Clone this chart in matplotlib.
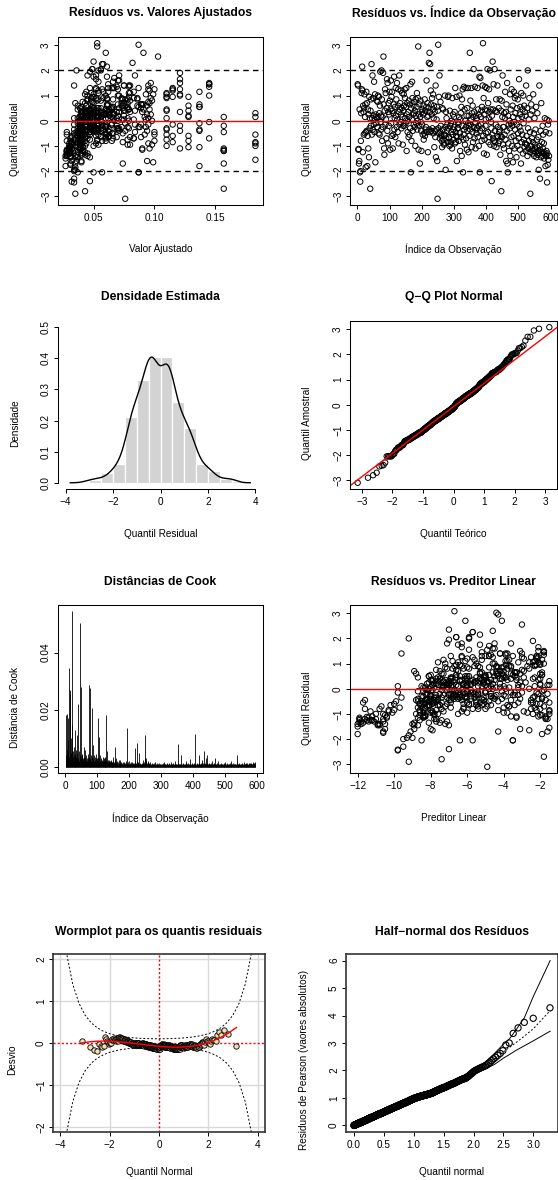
import numpy as np
import matplotlib
matplotlib.use('Agg')
import matplotlib.pyplot as plt
from statistics import NormalDist

plt.rcParams['font.family'] = ['Liberation Sans', 'DejaVu Sans']
plt.rcParams['axes.unicode_minus'] = True

# quantile residuals, in observation order
resid = [
    1.45, 1.40, -1.15, -1.12, -1.70, -1.60, 0.45, -2.05, -2.42, -2.00, -0.80, 0.30, 1.10, 1.25, 2.15, 1.20, -1.25, 0.60, 0.35, -0.55,
    0.50, 1.05, -0.50, 0.15, 0.65, -1.85, -0.45, 1.15, -0.40, 0.70, -1.80, -0.60, 0.45, -1.10, 0.25, -1.45, 0.95, -0.30, 0.10, -2.70,
    0.40, -0.20, 0.85, 2.25, -0.55, 0.10, 1.80, -0.35, 0.90, 0.20, -0.15, 1.55, -0.45, 0.05, 1.05, -1.65, 0.25, 0.15, -0.10, 0.80,
    0.10, -0.25, 0.75, 1.00, 0.15, -0.50, 0.95, 0.30, -0.55, 0.60, 1.95, -0.05, 0.20, -0.35, 2.00, 0.85, -0.80, 0.15, -0.25, 1.90,
    2.55, 0.65, -1.10, -1.35, 0.40, 1.25, -0.15, 1.10, 0.05, -0.70, 0.50, 1.65, -0.40, 1.50, -0.90, 0.35, 0.70, -0.20, 0.25, 1.15,
    0.80, -1.15, 0.45, 1.60, -0.10, 0.95, -0.60, 1.15, 0.40, -1.10, 0.30, -0.55, 0.65, 1.75, -0.35, 0.10, 0.55, -0.65, 1.30, 0.20,
    0.85, -0.25, 1.50, 0.05, -0.45, 0.60, 1.25, -0.90, 0.35, 1.80, -0.15, 0.45, 0.70, -0.05, 1.20, 0.25, -0.30, 0.50, 1.10, 0.15,
    -0.95, -0.20, 0.40, 1.05, 0.60, -0.20, 1.25, 0.90, 0.10, -0.10, 0.55, 1.30, -1.20, 0.25, 0.70, -0.45, 0.00, 0.35, -0.65, 0.80,
    0.15, -0.55, 0.65, -0.30, 1.45, -2.05, 0.50, -0.80, 0.05, 1.55, 0.90, -0.40, 0.25, 0.60, -0.15, 0.30, 0.75, -0.25, 0.40, -1.00,
    0.85, 0.20, -0.10, 0.55, 1.10, -0.35, 0.00, 0.90, 2.95, -1.15, 0.25, -0.20, 0.65, -1.70, 0.15, 0.80, -0.05, -0.40, -1.20, 0.35,
    -0.15, 0.45, -0.55, 0.25, 0.60, -0.75, 0.30, -0.50, 0.85, -0.60, 0.40, -0.35, -0.25, 0.55, 1.60, -0.45, 0.15, 0.70, -1.25, 0.20,
    0.50, 2.30, -0.35, 2.70, 0.35, 2.25, -0.45, 1.20, 0.65, -0.40, 0.25, 0.90, -0.30, 0.45, 1.05, -0.50, 0.10, 0.60, -1.05, 0.35,
    -0.40, -0.65, 1.40, -1.45, -0.35, 0.05, 0.55, -1.60, -3.10, 0.40, 3.02, -0.30, 0.95, -0.50, 1.80, -0.70, -0.45, 0.75, -0.20, -0.55,
    -0.60, -0.80, -1.05, 0.50, -0.35, 0.45, -0.75, -0.90, -0.95, -0.60, -0.55, 1.00, -0.25, -1.95, 0.35, -0.70, 0.10, -0.40, -0.15, -0.85,
    0.95, -0.30, 1.00, -0.65, -0.70, -1.00, 0.40, -0.20, -0.95, -0.85, -0.10, -0.45, 0.00, -1.10, 0.90, -0.55, 0.25, -0.35, -0.75, 0.15,
    -0.25, 0.35, -0.90, 1.30, -0.45, -0.85, -0.60, 0.95, -1.60, -0.65, -0.30, -0.30, -0.05, -0.15, -0.80, 0.15, 1.00, -0.50, -1.20, 0.05,
    0.30, -0.65, 0.55, -1.40, 0.85, -0.20, 1.25, -2.05, -0.75, -0.55, 1.35, -0.35, 0.45, -0.95, 0.00, 1.30, -0.25, -0.70, 0.20, -1.15,
    0.50, -0.40, 1.30, -0.10, -1.25, 0.20, -0.20, -0.60, 2.70, -0.35, 0.80, -0.15, 0.05, 1.30, -1.05, 0.30, -0.45, 0.60, -0.85, 0.15,
    2.05, -0.25, 0.35, -0.70, 1.35, -0.10, -1.10, 0.20, -0.35, -0.50, 0.10, -0.30, 1.30, -0.65, 0.45, -0.20, -1.00, 0.25, 1.75, -2.05,
    -0.40, 1.70, 0.15, -0.15, 0.40, -0.80, 0.55, -0.30, 1.40, 3.08, -0.60, 0.90, -1.30, 0.25, -0.75, 0.45, 1.35, -0.20, 0.05, -0.50,
    1.30, -1.35, 0.40, 2.05, -0.45, 0.70, -0.85, 0.10, 1.25, -0.65, 0.35, 2.00, -0.95, 0.45, -0.05, -0.30, -2.40, 0.20, -0.55, 2.35,
    0.45, -0.70, 1.45, -1.00, -0.80, 2.05, -0.40, -0.85, 0.40, -0.15, 0.85, -1.05, 0.35, -0.60, 1.40, -0.25, -0.65, -0.90, 0.50, -0.45,
    -0.80, 0.85, -0.35, -1.35, -0.60, 0.40, -2.80, 0.80, -0.65, 0.15, 1.80, -0.95, -0.25, -0.25, -1.10, 0.30, -0.55, 0.10, 1.15, -0.75,
    0.35, -1.60, 0.65, -0.40, 1.50, -1.70, -2.05, 0.20, -0.90, -0.15, -1.20, 0.00, -0.30, 1.05, -1.40, 0.45, -0.10, -0.65, 1.25, -1.00,
    -0.20, 0.60, -1.65, 0.15, -0.60, 1.15, -0.05, -1.10, 0.90, -0.35, 0.30, -0.80, 1.00, -1.45, -0.15, 0.50, -1.00, 0.85, -0.50, 0.10,
    -0.70, 1.65, -0.25, 0.25, -1.15, 0.55, -0.40, -1.70, 1.10, -0.85, 0.15, -0.55, 0.45, -1.30, 1.00, -0.10, -0.75, 0.60, -1.05, 0.35,
    -0.90, 0.20, -1.20, 1.40, -0.60, -0.95, 0.50, -1.40, 2.00, -0.30, -1.10, 0.05, -0.80, 0.90, -1.25, -0.45, -2.90, 0.25, -1.00, 0.65,
    -1.15, -0.70, 0.40, -1.30, -0.85, 1.05, -1.20, -0.50, -1.40, 0.10, -0.95, -1.10, -0.35, -1.25, 0.55, -1.45, -0.75, -1.05, 0.30, -1.35,
    -1.20, -0.65, -1.95, -1.30, 1.40, -1.00, -2.30, -1.15, -0.40, -1.45, 0.70, -1.25, -0.85, -1.40, -0.20, -1.10, -0.55, -1.30, -0.90, -1.50,
    -1.25, 0.10, -1.35, -1.80, -0.45, -1.40, -1.20, 0.05, -2.45, -1.30, -1.75, -0.15, -1.55, 0.00, -1.40, -0.50,
]

fitted = [
    0.062, 0.080, 0.028, 0.030, 0.031, 0.032, 0.048, 0.037, 0.032, 0.034, 0.028, 0.040, 0.054, 0.070, 0.061, 0.115, 0.030, 0.044, 0.040, 0.039,
    0.074, 0.099, 0.040, 0.054, 0.090, 0.035, 0.041, 0.058, 0.121, 0.050, 0.137, 0.037, 0.065, 0.032, 0.044, 0.036, 0.079, 0.040, 0.069, 0.157,
    0.041, 0.060, 0.066, 0.057, 0.039, 0.110, 0.052, 0.045, 0.086, 0.039, 0.049, 0.054, 0.157, 0.073, 0.043, 0.040, 0.063, 0.092, 0.037, 0.053,
    0.047, 0.041, 0.095, 0.060, 0.183, 0.040, 0.049, 0.066, 0.043, 0.037, 0.047, 0.056, 0.128, 0.050, 0.056, 0.078, 0.039, 0.045, 0.088, 0.121,
    0.103, 0.061, 0.039, 0.043, 0.053, 0.100, 0.065, 0.048, 0.041, 0.083, 0.071, 0.052, 0.040, 0.097, 0.040, 0.121, 0.075, 0.047, 0.058, 0.044,
    0.056, 0.037, 0.043, 0.070, 0.048, 0.110, 0.037, 0.062, 0.076, 0.096, 0.047, 0.054, 0.137, 0.050, 0.041, 0.060, 0.087, 0.039, 0.067, 0.053,
    0.073, 0.050, 0.145, 0.039, 0.063, 0.044, 0.057, 0.037, 0.090, 0.045, 0.115, 0.049, 0.078, 0.040, 0.054, 0.097, 0.069, 0.039, 0.079, 0.056,
    0.040, 0.058, 0.047, 0.110, 0.074, 0.043, 0.052, 0.083, 0.062, 0.039, 0.137, 0.065, 0.041, 0.053, 0.096, 0.039, 0.070, 0.043, 0.080, 0.048,
    0.047, 0.061, 0.089, 0.037, 0.145, 0.050, 0.056, 0.100, 0.044, 0.066, 0.048, 0.071, 0.040, 0.128, 0.053, 0.060, 0.041, 0.093, 0.075, 0.036,
    0.086, 0.041, 0.065, 0.049, 0.110, 0.043, 0.079, 0.061, 0.053, 0.157, 0.047, 0.039, 0.070, 0.035, 0.054, 0.098, 0.045, 0.037, 0.157, 0.057,
    0.050, 0.078, 0.040, 0.058, 0.094, 0.039, 0.048, 0.066, 0.045, 0.115, 0.061, 0.053, 0.087, 0.040, 0.071, 0.052, 0.128, 0.043, 0.037, 0.063,
    0.039, 0.082, 0.054, 0.060, 0.080, 0.058, 0.043, 0.096, 0.062, 0.137, 0.049, 0.073, 0.039, 0.091, 0.121, 0.060, 0.044, 0.076, 0.041, 0.050,
    0.056, 0.043, 0.075, 0.047, 0.110, 0.040, 0.065, 0.094, 0.076, 0.047, 0.087, 0.052, 0.128, 0.041, 0.084, 0.060, 0.036, 0.049, 0.069, 0.183,
    0.040, 0.053, 0.039, 0.089, 0.048, 0.063, 0.110, 0.044, 0.078, 0.037, 0.060, 0.145, 0.047, 0.034, 0.069, 0.039, 0.095, 0.050, 0.057, 0.183,
    0.050, 0.071, 0.045, 0.039, 0.083, 0.043, 0.061, 0.121, 0.054, 0.039, 0.076, 0.047, 0.098, 0.090, 0.058, 0.041, 0.067, 0.137, 0.037, 0.049,
    0.060, 0.040, 0.052, 0.087, 0.039, 0.074, 0.045, 0.115, 0.036, 0.056, 0.049, 0.079, 0.043, 0.065, 0.128, 0.048, 0.070, 0.037, 0.157, 0.093,
    0.043, 0.062, 0.078, 0.045, 0.054, 0.039, 0.095, 0.057, 0.047, 0.110, 0.069, 0.041, 0.060, 0.080, 0.040, 0.052, 0.073, 0.145, 0.047, 0.090,
    0.065, 0.049, 0.115, 0.040, 0.043, 0.075, 0.053, 0.128, 0.091, 0.058, 0.045, 0.084, 0.039, 0.066, 0.037, 0.050, 0.100, 0.061, 0.041, 0.157,
    0.049, 0.044, 0.071, 0.039, 0.079, 0.054, 0.121, 0.041, 0.063, 0.074, 0.037, 0.056, 0.047, 0.089, 0.110, 0.047, 0.050, 0.066, 0.061, 0.087,
    0.040, 0.067, 0.053, 0.095, 0.043, 0.060, 0.137, 0.048, 0.075, 0.053, 0.039, 0.097, 0.045, 0.058, 0.078, 0.037, 0.145, 0.050, 0.083, 0.065,
    0.062, 0.040, 0.084, 0.056, 0.047, 0.073, 0.115, 0.050, 0.121, 0.043, 0.063, 0.054, 0.039, 0.079, 0.145, 0.053, 0.047, 0.070, 0.092, 0.050,
    0.047, 0.066, 0.145, 0.041, 0.057, 0.049, 0.094, 0.037, 0.110, 0.060, 0.074, 0.137, 0.045, 0.052, 0.095, 0.040, 0.069, 0.095, 0.054, 0.084,
    0.043, 0.076, 0.050, 0.036, 0.063, 0.128, 0.043, 0.080, 0.060, 0.040, 0.071, 0.098, 0.049, 0.078, 0.039, 0.056, 0.100, 0.053, 0.137, 0.037,
    0.052, 0.040, 0.091, 0.062, 0.121, 0.074, 0.087, 0.045, 0.183, 0.057, 0.041, 0.067, 0.110, 0.050, 0.035, 0.079, 0.054, 0.043, 0.115, 0.183,
    0.048, 0.073, 0.099, 0.043, 0.056, 0.083, 0.039, 0.157, 0.052, 0.070, 0.044, 0.065, 0.121, 0.037, 0.089, 0.053, 0.110, 0.061, 0.040, 0.078,
    0.045, 0.121, 0.060, 0.094, 0.039, 0.049, 0.076, 0.157, 0.080, 0.040, 0.065, 0.047, 0.096, 0.041, 0.071, 0.137, 0.053, 0.086, 0.128, 0.062,
    0.032, 0.057, 0.030, 0.079, 0.032, 0.040, 0.050, 0.028, 0.036, 0.070, 0.030, 0.045, 0.031, 0.110, 0.028, 0.039, 0.035, 0.060, 0.031, 0.089,
    0.030, 0.031, 0.054, 0.030, 0.032, 0.093, 0.028, 0.034, 0.027, 0.043, 0.032, 0.039, 0.034, 0.030, 0.066, 0.031, 0.034, 0.031, 0.183, 0.028,
    0.031, 0.032, 0.035, 0.028, 0.034, 0.030, 0.034, 0.032, 0.043, 0.031, 0.035, 0.030, 0.032, 0.031, 0.157, 0.039, 0.028, 0.031, 0.030, 0.027,
    0.030, 0.034, 0.028, 0.027, 0.028, 0.031, 0.028, 0.075, 0.034, 0.030, 0.031, 0.034, 0.183, 0.053, 0.031, 0.037,
]

linpred = [
    -5.2, -3.8, -11.9, -11.5, -10.6, -10.5, -6.8, -8.5, -9.8, -9.5, -11.6, -7.9, -6.1, -4.6, -5.3, -2.2, -11.2, -7.4, -8.0, -8.3,
    -4.3, -2.6, -8.1, -6.0, -3.3, -9.2, -7.8, -5.6, -2.1, -6.5, -1.9, -8.6, -5.0, -10.4, -7.3, -8.9, -3.9, -8.0, -4.7, -1.8,
    -7.7, -5.4, -4.8, -5.7, -8.4, -2.3, -6.3, -7.1, -3.6, -8.2, -6.6, -5.9, -1.7, -4.4, -7.6, -7.9, -5.1, -3.2, -8.7, -6.2,
    -6.9, -7.7, -3.0, -5.5, -1.5, -8.0, -6.6, -4.9, -7.4, -8.8, -7.0, -5.8, -2.0, -6.4, -5.9, -4.0, -8.3, -7.2, -3.4, -2.4,
    -3.0, -5.3, -8.4, -7.5, -6.1, -2.5, -5.0, -6.8, -7.8, -3.7, -4.5, -6.3, -8.0, -3.1, -7.9, -2.1, -4.2, -6.9, -5.6, -7.3,
    -5.9, -8.7, -7.6, -4.6, -6.7, -2.3, -8.5, -5.2, -4.1, -3.6, -7.0, -6.0, -1.9, -6.5, -7.7, -5.4, -3.5, -8.1, -4.8, -6.2,
    -4.4, -6.4, -1.8, -8.3, -5.1, -7.3, -5.7, -8.6, -3.3, -7.1, -2.2, -6.6, -4.0, -7.9, -6.0, -2.8, -4.7, -8.1, -3.9, -5.8,
    -8.0, -5.6, -6.9, -2.4, -4.3, -7.5, -6.3, -3.7, -5.2, -8.4, -1.9, -5.0, -7.8, -6.1, -2.9, -8.2, -4.6, -7.4, -3.8, -6.8,
    -7.0, -5.3, -3.4, -8.5, -1.8, -6.4, -5.9, -2.5, -7.3, -4.9, -6.7, -4.5, -8.1, -2.0, -6.2, -5.5, -7.7, -3.2, -4.2, -8.8,
    -3.6, -7.8, -5.0, -6.6, -2.3, -7.4, -3.9, -5.4, -4.3, -1.7, -6.9, -8.2, -4.6, -9.1, -6.0, -2.6, -7.1, -8.7, -1.6, -5.7,
    -6.5, -4.0, -7.9, -5.6, -3.1, -8.3, -6.8, -4.8, -7.2, -2.2, -5.3, -6.1, -3.5, -8.0, -4.5, -6.3, -2.0, -7.5, -8.6, -5.1,
    -8.1, -4.6, -6.0, -6.1, -3.8, -5.7, -7.6, -2.9, -5.2, -1.9, -6.7, -4.4, -8.4, -3.3, -2.1, -5.5, -7.3, -4.1, -7.8, -6.4,
    -5.8, -7.5, -4.2, -7.0, -2.4, -8.0, -5.0, -3.1, -4.9, -6.9, -4.4, -6.3, -2.0, -7.7, -3.6, -5.4, -8.8, -6.6, -4.7, -1.5,
    -7.9, -6.2, -8.3, -3.4, -6.8, -5.1, -2.3, -7.3, -4.0, -8.6, -5.5, -1.8, -7.0, -9.3, -4.7, -8.1, -3.0, -6.5, -5.8, -1.5,
    -6.4, -4.5, -7.2, -8.1, -3.7, -7.6, -5.3, -2.1, -6.0, -8.4, -4.1, -6.9, -2.6, -3.3, -5.6, -7.8, -4.8, -1.9, -8.7, -6.6,
    -5.4, -7.9, -6.3, -3.5, -8.2, -4.3, -7.1, -2.2, -8.9, -5.9, -6.6, -3.9, -7.4, -5.0, -2.0, -6.8, -4.6, -8.5, -1.7, -3.2,
    -7.6, -5.2, -4.0, -7.2, -6.0, -8.3, -3.0, -5.7, -6.9, -2.4, -4.7, -7.8, -5.5, -3.8, -8.1, -6.3, -4.4, -1.8, -7.0, -3.3,
    -5.0, -6.7, -2.2, -8.0, -7.4, -4.2, -6.1, -2.0, -4.1, -5.6, -7.1, -3.6, -8.4, -4.8, -8.6, -6.4, -2.5, -5.3, -7.7, -1.6,
    -6.6, -7.3, -4.5, -8.2, -3.9, -6.0, -2.1, -7.7, -5.1, -4.3, -8.5, -5.8, -6.9, -3.4, -2.3, -7.0, -6.5, -4.9, -5.3, -3.5,
    -8.0, -4.8, -6.2, -3.0, -7.5, -5.4, -1.9, -6.8, -4.2, -6.7, -8.3, -2.7, -7.1, -5.6, -4.0, -8.7, -1.8, -6.4, -3.7, -5.0,
    -5.2, -8.1, -3.6, -5.9, -7.0, -4.4, -2.2, -6.5, -2.1, -7.6, -5.1, -5.9, -8.4, -3.9, -1.8, -6.1, -7.0, -4.6, -3.2, -7.0,
    -6.9, -4.9, -1.8, -7.8, -5.7, -6.6, -3.1, -8.6, -2.4, -5.4, -4.3, -1.9, -7.2, -6.2, -3.0, -8.0, -4.7, -2.9, -6.0, -3.6,
    -7.4, -4.1, -6.4, -8.9, -5.1, -2.0, -7.4, -3.8, -5.5, -7.9, -4.5, -2.7, -6.7, -4.0, -8.3, -5.8, -2.5, -6.1, -1.9, -8.5,
    -6.3, -8.0, -3.3, -5.2, -2.1, -4.3, -3.5, -7.1, -1.5, -5.7, -7.7, -4.8, -2.3, -6.5, -9.0, -3.9, -6.0, -7.5, -2.2, -1.5,
    -6.8, -4.4, -2.6, -7.6, -5.9, -3.7, -8.2, -1.7, -6.3, -4.6, -7.3, -5.0, -2.0, -8.7, -3.4, -6.1, -2.4, -5.3, -7.9, -4.0,
    -7.2, -2.1, -5.5, -3.1, -8.4, -6.6, -4.1, -1.6, -3.8, -8.0, -5.0, -6.9, -2.9, -7.7, -4.5, -1.9, -6.2, -3.6, -2.0, -5.2,
    -10.3, -5.8, -11.0, -3.9, -10.0, -7.9, -6.4, -11.8, -9.2, -4.7, -11.2, -7.1, -10.8, -2.3, -11.9, -8.3, -9.2, -5.4, -10.6, -3.4,
    -11.4, -10.7, -6.0, -11.1, -10.3, -3.2, -11.6, -9.9, -12.0, -7.4, -10.1, -8.4, -9.6, -11.3, -4.8, -10.9, -9.7, -10.5, -1.5, -11.7,
    -10.6, -10.2, -9.0, -11.8, -9.6, -11.0, -9.5, -10.4, -7.6, -10.8, -8.9, -11.5, -10.0, -10.9, -1.6, -8.3, -11.7, -10.6, -11.3, -12.0,
    -11.2, -9.8, -11.9, -12.0, -11.6, -10.5, -11.9, -4.2, -9.8, -11.4, -10.6, -9.8, -1.5, -6.2, -10.8, -8.7,
]

# Cook's distance, in units of 1e-4
cook_e4 = [
    40, 180, 25, 60, 185, 30, 15, 95, 45, 170, 20, 345, 35, 270, 10, 255, 50, 100, 25, 545,
    30, 145, 20, 55, 35, 15, 40, 70, 25, 130, 10, 45, 60, 20, 35, 110, 15, 50, 25, 220,
    30, 15, 55, 20, 40, 10, 505, 35, 25, 280, 15, 45, 40, 20, 30, 10, 25, 35, 15, 70,
    20, 35, 60, 15, 25, 40, 10, 30, 20, 30, 45, 15, 25, 35, 285, 20, 10, 275, 30, 15,
    40, 20, 35, 205, 15, 30, 75, 25, 10, 40, 20, 35, 15, 25, 30, 45, 10, 20, 30, 15,
    25, 170, 20, 35, 105, 15, 30, 20, 40, 10, 25, 15, 30, 20, 25, 10, 35, 15, 20, 30,
    15, 25, 10, 30, 35, 20, 15, 25, 180, 10, 55, 20, 15, 25, 10, 20, 15, 25, 10, 20,
    15, 10, 20, 25, 12, 18, 8, 15, 35, 10, 20, 12, 15, 8, 70, 25, 12, 30, 10, 15,
    8, 12, 20, 10, 15, 6, 25, 10, 12, 25, 8, 15, 10, 12, 6, 18, 10, 8, 12, 15,
    10, 6, 12, 8, 15, 10, 5, 12, 20, 8, 10, 135, 6, 12, 8, 15, 10, 6, 8, 20,
    6, 10, 8, 12, 5, 15, 8, 10, 6, 15, 12, 8, 10, 5, 12, 8, 18, 6, 10, 65,
    10, 12, 8, 20, 85, 10, 15, 8, 12, 50, 6, 10, 8, 12, 5, 10, 8, 6, 12, 8,
    10, 6, 12, 8, 25, 10, 15, 8, 30, 110, 12, 20, 30, 8, 12, 10, 6, 15, 8, 20,
    6, 10, 8, 12, 5, 15, 8, 6, 10, 5, 12, 8, 6, 10, 5, 8, 12, 6, 8, 15,
    5, 8, 6, 10, 4, 8, 12, 5, 6, 10, 8, 5, 6, 12, 4, 8, 10, 5, 6, 10,
    5, 8, 4, 10, 6, 12, 5, 8, 6, 18, 5, 8, 4, 10, 6, 8, 5, 12, 6, 8,
    5, 10, 6, 8, 4, 12, 6, 5, 10, 15, 6, 8, 5, 10, 4, 8, 12, 6, 8, 5,
    10, 6, 8, 5, 20, 8, 6, 10, 5, 8, 6, 12, 5, 80, 8, 6, 10, 5, 8, 6,
    10, 5, 8, 40, 6, 10, 5, 8, 6, 12, 5, 8, 6, 10, 5, 8, 6, 12, 5, 20,
    8, 6, 10, 5, 8, 12, 6, 5, 10, 28, 6, 8, 5, 10, 6, 12, 5, 8, 6, 10,
    5, 8, 6, 12, 5, 10, 8, 115, 6, 10, 5, 8, 12, 6, 10, 5, 8, 6, 12, 40,
    8, 6, 10, 5, 12, 8, 6, 10, 25, 8, 5, 12, 6, 10, 55, 8, 12, 6, 10, 30,
    8, 10, 6, 12, 40, 8, 6, 10, 5, 12, 8, 6, 10, 5, 8, 12, 6, 8, 5, 20,
    6, 10, 5, 8, 12, 6, 10, 5, 8, 30, 6, 10, 5, 8, 6, 12, 5, 8, 6, 20,
    5, 8, 6, 10, 5, 8, 12, 6, 5, 10, 8, 6, 5, 10, 6, 8, 5, 12, 6, 15,
    5, 8, 6, 10, 5, 12, 6, 8, 5, 10, 6, 8, 5, 10, 6, 8, 12, 6, 8, 20,
    6, 8, 5, 10, 6, 12, 5, 8, 10, 6, 8, 5, 10, 6, 8, 5, 12, 40, 6, 8,
    5, 10, 6, 8, 5, 12, 6, 8, 5, 10, 6, 8, 12, 5, 8, 6, 10, 5, 8, 15,
    6, 10, 8, 5, 12, 6, 8, 10, 5, 8, 12, 6, 10, 5, 12, 8, 6, 10, 8, 12,
    10, 8, 12, 6, 10, 8, 12, 6, 10, 15, 8, 12, 10, 15, 12, 10,
]

# absolute Pearson residuals, sorted
pearson_abs = [
    0.00, 0.00, 0.00, 0.01, 0.01, 0.01, 0.01, 0.01, 0.02, 0.02, 0.02, 0.02, 0.02, 0.03, 0.03, 0.03, 0.03, 0.03, 0.04, 0.04,
    0.04, 0.04, 0.04, 0.05, 0.05, 0.05, 0.05, 0.06, 0.06, 0.06, 0.06, 0.06, 0.07, 0.07, 0.07, 0.07, 0.07, 0.08, 0.08, 0.08,
    0.08, 0.08, 0.08, 0.09, 0.09, 0.09, 0.09, 0.10, 0.10, 0.10, 0.10, 0.10, 0.11, 0.11, 0.11, 0.11, 0.11, 0.12, 0.12, 0.12,
    0.12, 0.12, 0.12, 0.13, 0.13, 0.13, 0.13, 0.14, 0.14, 0.14, 0.14, 0.14, 0.15, 0.15, 0.15, 0.15, 0.15, 0.16, 0.16, 0.16,
    0.16, 0.16, 0.16, 0.17, 0.17, 0.17, 0.17, 0.18, 0.18, 0.18, 0.18, 0.18, 0.19, 0.19, 0.19, 0.19, 0.19, 0.20, 0.20, 0.20,
    0.20, 0.20, 0.21, 0.21, 0.21, 0.21, 0.22, 0.22, 0.22, 0.22, 0.23, 0.23, 0.23, 0.23, 0.24, 0.24, 0.24, 0.24, 0.25, 0.25,
    0.25, 0.25, 0.25, 0.26, 0.26, 0.26, 0.26, 0.27, 0.27, 0.27, 0.27, 0.27, 0.28, 0.28, 0.28, 0.28, 0.28, 0.29, 0.29, 0.29,
    0.29, 0.29, 0.29, 0.30, 0.30, 0.30, 0.30, 0.31, 0.31, 0.31, 0.31, 0.31, 0.32, 0.32, 0.32, 0.32, 0.32, 0.33, 0.33, 0.33,
    0.33, 0.33, 0.34, 0.34, 0.34, 0.34, 0.35, 0.35, 0.35, 0.35, 0.36, 0.36, 0.36, 0.36, 0.37, 0.37, 0.37, 0.37, 0.38, 0.38,
    0.38, 0.38, 0.38, 0.39, 0.39, 0.39, 0.39, 0.40, 0.40, 0.40, 0.40, 0.40, 0.41, 0.41, 0.41, 0.41, 0.41, 0.42, 0.42, 0.42,
    0.42, 0.42, 0.42, 0.43, 0.43, 0.43, 0.43, 0.44, 0.44, 0.44, 0.44, 0.44, 0.45, 0.45, 0.45, 0.45, 0.45, 0.46, 0.46, 0.46,
    0.46, 0.47, 0.47, 0.47, 0.47, 0.48, 0.48, 0.48, 0.48, 0.49, 0.49, 0.49, 0.49, 0.50, 0.50, 0.50, 0.50, 0.51, 0.51, 0.51,
    0.51, 0.51, 0.52, 0.52, 0.52, 0.52, 0.53, 0.53, 0.53, 0.53, 0.54, 0.54, 0.54, 0.54, 0.55, 0.55, 0.55, 0.55, 0.56, 0.56,
    0.56, 0.56, 0.57, 0.57, 0.57, 0.57, 0.58, 0.58, 0.58, 0.58, 0.59, 0.59, 0.59, 0.59, 0.60, 0.60, 0.60, 0.60, 0.61, 0.61,
    0.61, 0.61, 0.62, 0.62, 0.62, 0.62, 0.63, 0.63, 0.63, 0.63, 0.64, 0.64, 0.64, 0.64, 0.65, 0.65, 0.65, 0.65, 0.66, 0.66,
    0.66, 0.66, 0.67, 0.67, 0.67, 0.67, 0.68, 0.68, 0.68, 0.68, 0.69, 0.69, 0.69, 0.69, 0.70, 0.70, 0.70, 0.70, 0.71, 0.71,
    0.71, 0.71, 0.72, 0.72, 0.72, 0.73, 0.73, 0.73, 0.74, 0.74, 0.74, 0.74, 0.75, 0.75, 0.75, 0.75, 0.76, 0.76, 0.76, 0.77,
    0.77, 0.77, 0.77, 0.78, 0.78, 0.78, 0.79, 0.79, 0.79, 0.79, 0.80, 0.80, 0.80, 0.80, 0.81, 0.81, 0.81, 0.81, 0.82, 0.82,
    0.82, 0.82, 0.83, 0.83, 0.83, 0.84, 0.84, 0.84, 0.85, 0.85, 0.85, 0.86, 0.86, 0.86, 0.86, 0.87, 0.87, 0.87, 0.88, 0.88,
    0.88, 0.88, 0.89, 0.89, 0.90, 0.90, 0.90, 0.91, 0.91, 0.92, 0.92, 0.92, 0.93, 0.93, 0.93, 0.94, 0.94, 0.94, 0.95, 0.95,
    0.95, 0.95, 0.96, 0.96, 0.96, 0.97, 0.97, 0.97, 0.98, 0.98, 0.98, 0.99, 0.99, 0.99, 0.99, 1.00, 1.00, 1.00, 1.01, 1.01,
    1.01, 1.01, 1.02, 1.02, 1.02, 1.03, 1.03, 1.03, 1.03, 1.04, 1.04, 1.04, 1.04, 1.05, 1.05, 1.05, 1.05, 1.06, 1.06, 1.06,
    1.06, 1.06, 1.07, 1.07, 1.07, 1.08, 1.08, 1.08, 1.08, 1.09, 1.09, 1.09, 1.09, 1.10, 1.10, 1.10, 1.10, 1.11, 1.11, 1.11,
    1.11, 1.11, 1.12, 1.12, 1.12, 1.13, 1.13, 1.13, 1.14, 1.14, 1.14, 1.15, 1.15, 1.15, 1.15, 1.16, 1.16, 1.16, 1.17, 1.17,
    1.17, 1.18, 1.18, 1.19, 1.19, 1.20, 1.20, 1.21, 1.22, 1.22, 1.23, 1.23, 1.24, 1.25, 1.25, 1.26, 1.26, 1.27, 1.27, 1.28,
    1.28, 1.29, 1.29, 1.30, 1.31, 1.31, 1.32, 1.32, 1.33, 1.34, 1.34, 1.35, 1.35, 1.36, 1.36, 1.37, 1.37, 1.38, 1.38, 1.39,
    1.39, 1.40, 1.41, 1.41, 1.42, 1.43, 1.44, 1.45, 1.45, 1.46, 1.47, 1.48, 1.48, 1.49, 1.50, 1.51, 1.51, 1.52, 1.52, 1.53,
    1.54, 1.55, 1.56, 1.57, 1.58, 1.59, 1.60, 1.61, 1.62, 1.63, 1.64, 1.65, 1.66, 1.67, 1.68, 1.69, 1.70, 1.70, 1.71, 1.72,
    1.74, 1.76, 1.78, 1.80, 1.83, 1.86, 1.88, 1.91, 1.94, 1.97, 1.99, 2.01, 2.03, 2.05, 2.07, 2.09, 2.11, 2.13, 2.15, 2.17,
    2.20, 2.25, 2.30, 2.36, 2.42, 2.48, 2.55, 2.62, 2.72, 2.93, 3.00, 3.35, 3.55, 3.75, 3.90, 4.28,
]

# simulated envelope of the half-normal plot, read at some quantiles
env_x = [0.0, 0.5, 1.0, 1.5, 2.0, 2.2, 2.35, 2.5, 2.6, 2.7, 2.85, 3.0, 3.28]
env_hi = [0.02, 0.53, 1.02, 1.44, 2.02, 2.32, 2.62, 2.96, 3.15, 3.45, 3.92, 4.70, 6.00]
env_mid = [0.01, 0.50, 0.97, 1.38, 1.95, 2.20, 2.40, 2.68, 2.84, 3.00, 3.25, 3.52, 4.18]
env_lo = [0.00, 0.47, 0.93, 1.33, 1.86, 2.06, 2.22, 2.45, 2.58, 2.72, 2.90, 3.08, 3.43]

resid = np.array(resid)
fitted = np.array(fitted)
linpred = np.array(linpred)
cook = np.array(cook_e4) / 1e4
pearson_abs = np.array(pearson_abs)
n = len(resid)
assert len(fitted) == n and len(linpred) == n and len(cook) == n and len(pearson_abs) == n, \
    (len(resid), len(fitted), len(linpred), len(cook), len(pearson_abs))
idx = np.arange(1, n + 1)
N01 = NormalDist()

W, H = 558, 1180
fig = plt.figure(figsize=(W / 100, H / 100), dpi=100)
FS = 7.2


def box(x0, y0, x1, y1):
    return fig.add_axes([x0 / W, 1 - y1 / H, (x1 - x0) / W, (y1 - y0) / H])


def txt(x, y, s, **kw):
    fig.text(x / W, 1 - y / H, s, ha='center', va='center', **kw)


def lab(vals, fmt):
    return [fmt.format(v).replace('-', '\u2212') for v in vals]


def rstyle(ax, xt, xfmt, yt, yfmt, spine_col='black', spine_lw=0.75):
    ax.set_xticks(xt, lab(xt, xfmt))
    ax.set_yticks(yt, lab(yt, yfmt))
    ax.tick_params(direction='out', length=3, width=0.7, labelsize=FS, pad=2.5, colors='black')
    ax.tick_params(axis='y', labelrotation=90, pad=2)
    for t in ax.get_yticklabels():
        t.set_va('center')
    for s in ax.spines.values():
        s.set_linewidth(spine_lw)
        s.set_color(spine_col)


def panel_text(cx, ty, yx, xy, title, xlabel, ylabel):
    txt(cx, ty, title, fontsize=8.7, fontweight='bold')
    txt(cx, xy, xlabel, fontsize=FS)
    txt(yx, (ty + xy) / 2 + 8, ylabel, fontsize=FS, rotation=90)


circ = dict(s=15, facecolors='none', edgecolors='black', linewidths=0.7)
LX0, LX1, RX0, RX1 = 58, 263, 350, 557

# 1: residuals vs fitted
ax = box(LX0, 37, LX1, 205)
ax.scatter(fitted, resid, **circ)
ax.axhline(0, color='red', lw=1.0)
for h in (-2, 2):
    ax.axhline(h, color='black', lw=1.0, ls=(0, (4, 3)))
ax.margins(0.04)
rstyle(ax, [0.05, 0.10, 0.15], '{:.2f}', [-3, -2, -1, 0, 1, 2, 3], '{:d}')
panel_text((LX0 + LX1) / 2, 13, 15, 249, 'Resíduos vs. Valores Ajustados', 'Valor Ajustado', 'Quantil Residual')

# 2: residuals vs index
ax = box(RX0, 37, RX1, 205)
ax.scatter(idx, resid, **circ)
ax.axhline(0, color='red', lw=1.0)
for h in (-2, 2):
    ax.axhline(h, color='black', lw=1.0, ls=(0, (4, 3)))
ax.margins(0.04)
rstyle(ax, list(range(0, 601, 100)), '{:d}', [-3, -2, -1, 0, 1, 2, 3], '{:d}')
panel_text((RX0 + RX1) / 2, 13, 307, 249, 'Resíduos vs. Índice da Observação', 'Índice da Observação', 'Quantil Residual')

# 3: histogram + kernel density
ax = box(LX0, 321, LX1, 489)
ax.hist(resid, bins=np.arange(-3.5, 3.51, 0.5), density=True, color='#D3D3D3', edgecolor='white', linewidth=0.9)
sd = resid.std(ddof=1)
q1, q3 = np.percentile(resid, [25, 75])
bw = 0.9 * min(sd, (q3 - q1) / 1.34) * n ** (-0.2)
kx = np.linspace(resid.min() - 3 * bw, resid.max() + 3 * bw, 512)
ky = np.exp(-0.5 * ((kx[:, None] - resid[None, :]) / bw) ** 2).sum(axis=1) / (n * bw * np.sqrt(2 * np.pi))
ax.plot(kx, ky, color='black', lw=1.0)
ax.set_xlim(-4.32, 4.32)
ax.set_ylim(-0.02, 0.52)
rstyle(ax, [-4, -2, 0, 2, 4], '{:d}', [0, 0.1, 0.2, 0.3, 0.4, 0.5], '{:.1f}')
ax.spines['top'].set_visible(False)
ax.spines['right'].set_visible(False)
ax.spines['bottom'].set_bounds(-4, 4)
ax.spines['left'].set_bounds(0, 0.5)
panel_text((LX0 + LX1) / 2, 297, 15, 534, 'Densidade Estimada', 'Quantil Residual', 'Densidade')

# 4: normal Q-Q
ax = box(RX0, 321, RX1, 489)
pp = (np.arange(1, n + 1) - 0.5) / n
theo = np.array([N01.inv_cdf(p) for p in pp])
samp = np.sort(resid)
ax.scatter(theo, samp, **circ)
y1, y2 = np.percentile(resid, [25, 75])
x1, x2 = N01.inv_cdf(0.25), N01.inv_cdf(0.75)
slope = (y2 - y1) / (x2 - x1)
ax.margins(0.04)
ax.axline((0, y1 - slope * x1), slope=slope, color='red', lw=1.0)
rstyle(ax, [-3, -2, -1, 0, 1, 2, 3], '{:d}', [-3, -2, -1, 0, 1, 2, 3], '{:d}')
panel_text((RX0 + RX1) / 2, 297, 307, 534, 'Q\u2212Q Plot Normal', 'Quantil Teórico', 'Quantil Amostral')

# 5: Cook's distance
ax = box(LX0, 605, LX1, 773)
ax.vlines(idx, 0, cook, color='black', lw=0.6)
ax.margins(0.04)
rstyle(ax, list(range(0, 601, 100)), '{:d}', [0, 0.02, 0.04], '{:.2f}')
panel_text((LX0 + LX1) / 2, 582, 15, 818, 'Distâncias de Cook', 'Índice da Observação', 'Distância de Cook')

# 6: residuals vs linear predictor
ax = box(RX0, 605, RX1, 773)
ax.scatter(linpred, resid, **circ)
ax.axhline(0, color='red', lw=1.0)
ax.margins(0.04)
rstyle(ax, [-12, -10, -8, -6, -4, -2], '{:d}', [-3, -2, -1, 0, 1, 2, 3], '{:d}')
panel_text((RX0 + RX1) / 2, 582, 307, 818, 'Resíduos vs. Preditor Linear', 'Preditor Linear', 'Quantil Residual')

# 7: worm plot
ax = box(53, 954, 265, 1132)
for v in (-4, -2, 2, 4):
    ax.axvline(v, color='#D9D9D9', lw=1.0, zorder=0)
for h in (-2, -1, 1, 2):
    ax.axhline(h, color='#D9D9D9', lw=1.0, zorder=0)
ax.axhline(0, color='red', lw=1.0, ls=(0, (1.5, 1.5)), zorder=1)
ax.axvline(0, color='red', lw=1.0, ls=(0, (1.5, 1.5)), zorder=1)
wy = samp - theo
z = np.arange(-4, 4.001, 0.25)
pz = np.array([N01.cdf(v) for v in z])
se = np.sqrt(pz * (1 - pz) / n) / np.array([N01.pdf(v) for v in z])
low = N01.inv_cdf(0.025) * se
ax.plot(z, low, color='black', lw=0.7, ls=(0, (2, 2)))
ax.plot(z, -low, color='black', lw=0.7, ls=(0, (2, 2)))
ax.scatter(theo, wy, s=15, facecolors='#F5DEB3', edgecolors='black', linewidths=0.6, zorder=3)
coef = np.polyfit(theo, wy, 3)
ax.plot(theo, np.polyval(coef, theo), color='red', lw=1.0, zorder=4)
ax.set_xlim(-4.3, 4.3)
ax.set_ylim(-2.12, 2.12)
rstyle(ax, [-4, -2, 0, 2, 4], '{:d}', [-2, -1, 0, 1, 2], '{:d}', spine_col='#333333', spine_lw=1.2)
panel_text(159, 932, 12, 1172, 'Wormplot para os quantis residuais', 'Quantil Normal', 'Desvio')

# 8: half-normal plot with envelope
ax = box(346, 954, 558, 1132)
hx = np.array([N01.inv_cdf((i + n - 1 / 8) / (2 * n + 0.5)) for i in range(1, n + 1)])
ax.scatter(hx, pearson_abs, s=20, facecolors='none', edgecolors='black', linewidths=0.8)
ax.plot(env_x, env_lo, color='black', lw=0.7)
ax.plot(env_x, env_hi, color='black', lw=0.7)
ax.plot(env_x, env_mid, color='black', lw=0.7, ls=(0, (2, 2)))
ax.margins(0.04)
rstyle(ax, [0.0, 0.5, 1.0, 1.5, 2.0, 2.5, 3.0], '{:.1f}', [0, 1, 2, 3, 4, 5, 6], '{:d}', spine_col='#333333', spine_lw=1.2)
panel_text(452, 932, 304, 1172, 'Half\u2212normal dos Resíduos', 'Quantil normal', 'Residuos de Pearson (vaores absolutos)')

fig.savefig('out.png', dpi=100)
